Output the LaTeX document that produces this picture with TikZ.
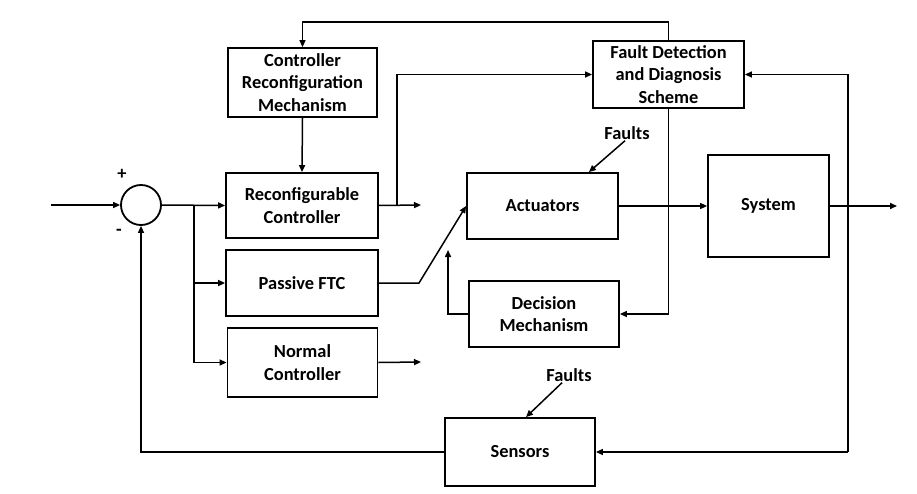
\documentclass[tikz,border=0pt]{standalone}
\usepackage{fontspec}
\setmainfont{Carlito}
\usetikzlibrary{arrows.meta}
\begin{document}
\begin{tikzpicture}[x=1pt,y=-1pt,
  blk/.style={draw,line width=1.8pt,rectangle,align=center,inner sep=0pt,
    font=\fontsize{18.4}{22.5}\selectfont\bfseries},
  lbl/.style={font=\fontsize{18.4}{22.5}\selectfont\bfseries,inner sep=1pt},
  ln/.style={line width=1.5pt},
  arr/.style={ln,-{Triangle[length=7pt,width=6pt]}}]
\useasboundingbox (0,0) rectangle (917,494);
\node[draw,line width=1.8pt,circle,minimum size=40pt,inner sep=0pt] (sum) at (141,205) {};
\node[blk,minimum width=149pt,minimum height=69pt] (crm) at (302.5,82.5) {Controller\\Reconfiguration\\Mechanism};
\node[blk,minimum width=152pt,minimum height=65pt] (rc) at (302,205.5) {Reconfigurable\\Controller};
\node[blk,minimum width=152pt,minimum height=66pt] (pftc) at (302,283) {Passive FTC};
\node[blk,minimum width=150pt,minimum height=69pt] (nc) at (302.5,362.5) {Normal\\Controller};
\node[blk,minimum width=151pt,minimum height=66pt] (act) at (542.5,206) {Actuators};
\node[blk,minimum width=150pt,minimum height=66pt] (dm) at (544,314) {Decision\\Mechanism};
\node[blk,minimum width=151pt,minimum height=67pt] (fdd) at (668.5,74.5) {Fault Detection\\and Diagnosis\\Scheme};
\node[blk,minimum width=121pt,minimum height=102pt] (sys) at (768.5,206) {System};
\node[blk,minimum width=150pt,minimum height=68pt] (sen) at (520,452) {Sensors};
\node[lbl] (f1) at (627,133) {Faults};
\node[lbl] (f2) at (569,375) {Faults};
\node[lbl] (plus) at (122,174) {+};
\node[lbl] (minus) at (119,232) {-};
% coordinates
\coordinate (in) at (51,205);
\coordinate (br1) at (194,205);
\coordinate (rcout) at (421,205);
\coordinate (br2) at (397,205);
\coordinate (pbend) at (419,283);
\coordinate (nout) at (421,362);
\coordinate (dmtip) at (448,250);
\coordinate (out) at (897,206);
\coordinate (rv) at (848,452);
\coordinate (topy) at (0,22);
% connectors
\draw[arr] (in) -- (sum.west);
\draw[arr] (sum.east) -- (rc.west);
\draw[arr] (br1) |- (pftc.west);
\draw[arr] (br1) |- (nc.west);
\draw[arr] (rc.east) -- (rcout);
\draw[arr] (br2) |- (fdd.west);
\draw[arr] (pftc.east) -- (pbend) -- (act.west);
\draw[arr] (dm.west) -| (dmtip);
\draw[arr] (nc.east) -- (nout);
\draw[arr] (act.east) -- (sys.west);
\draw[arr] (sys.east) -- (out);
\draw[arr] (rv) |- (fdd.east);
\draw[arr] (rv) -- (sen.east);
\draw[arr] (fdd.south) |- (dm.east);
\draw[arr] (fdd.north) -- (fdd.north |- topy) -| (crm.north);
\draw[arr] (crm.south) -- (rc.north);
\draw[arr] (sen.west) -| (sum.south);
\draw[arr] ([xshift=-2pt]f1.south) -- ([xshift=-30pt]act.north east);
\draw[arr] ([xshift=-7pt]f2.south) -- ([xshift=6pt]sen.north);
\end{tikzpicture}
\end{document}
